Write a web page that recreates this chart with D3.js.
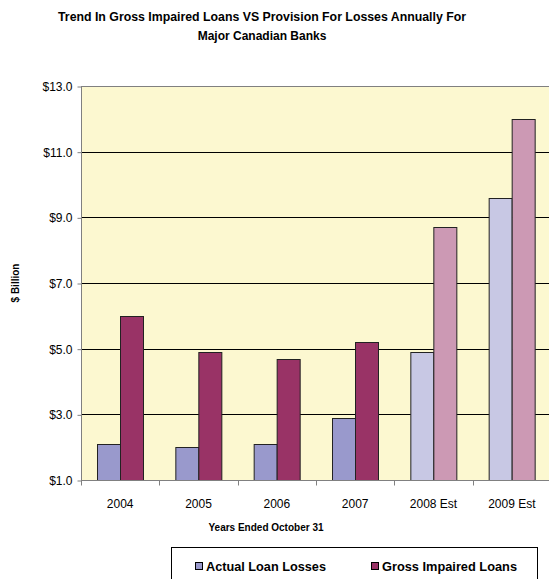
<!DOCTYPE html>
<html>
<head>
<meta charset="utf-8">
<script src="https://cdn.jsdelivr.net/npm/d3@7"></script>
<style>
  body { margin: 0; background: #fff; }
  text { font-family: "Liberation Sans", Arial, sans-serif; }
</style>
</head>
<body>
<div id="chart"></div>
<script>
// data ($ billion)
const years = ["2004", "2005", "2006", "2007", "2008 Est", "2009 Est"];
const actualLosses = [2.1, 2.0, 2.1, 2.9, 4.9, 9.6];
const grossImpaired = [6.0, 4.9, 4.7, 5.2, 8.7, 12.0];
const isEstimate = [false, false, false, false, true, true];
const seriesNames = ["Actual Loan Losses", "Gross Impaired Loans"];
const yTicks = [1, 3, 5, 7, 9, 11, 13];

const W = 549, H = 579;
const plot = { left: 81, top: 86, right: 551, bottom: 480 };

const colors = {
  "Actual Loan Losses": { normal: "#9999cc", est: "#c8c8e4" },
  "Gross Impaired Loans": { normal: "#993366", est: "#cc99b4" }
};

let svg = d3.select("#chart").append("svg")
  .attr("width", W)
  .attr("height", H);

// title
svg.append("text")
  .attr("x", 262).attr("y", 21)
  .attr("text-anchor", "middle")
  .style("font-size", "12px").style("font-weight", "bold")
  .attr("textLength", 408).attr("lengthAdjust", "spacingAndGlyphs")
  .text("Trend In Gross Impaired Loans VS Provision For Losses Annually For");
svg.append("text")
  .attr("x", 262).attr("y", 40)
  .attr("text-anchor", "middle")
  .style("font-size", "12px").style("font-weight", "bold")
  .text("Major Canadian Banks");

let x = d3.scaleBand()
  .domain(years)
  .range([plot.left, plot.right])
  .paddingInner(0).paddingOuter(0);

let xInner = d3.scaleBand()
  .domain(seriesNames)
  .range([0, x.bandwidth()])
  .paddingOuter(0.705).paddingInner(0);

let y = d3.scaleLinear()
  .domain([1, 13])
  .range([plot.bottom, plot.top]);

// plot background
svg.append("rect")
  .attr("x", plot.left).attr("y", plot.top)
  .attr("width", plot.right - plot.left).attr("height", plot.bottom - plot.top)
  .attr("fill", "#fcf8d0");

// gridlines
svg.append("g")
  .selectAll("line")
  .data(yTicks.slice(1, -1))
  .enter().append("line")
  .attr("x1", plot.left).attr("x2", plot.right)
  .attr("y1", d => Math.round(y(d)) + 0.5).attr("y2", d => Math.round(y(d)) + 0.5)
  .attr("stroke", "#000").attr("stroke-width", 1);

// top border
svg.append("line")
  .attr("x1", plot.left).attr("x2", plot.right)
  .attr("y1", plot.top + 0.5).attr("y2", plot.top + 0.5)
  .attr("stroke", "#808080");

// bars
const rows = years.map((yr, i) => ({
  year: yr,
  est: isEstimate[i],
  values: [
    { name: seriesNames[0], value: actualLosses[i] },
    { name: seriesNames[1], value: grossImpaired[i] }
  ]
}));

svg.append("g")
  .selectAll("g")
  .data(rows)
  .enter().append("g")
  .attr("transform", d => "translate(" + x(d.year) + ",0)")
  .selectAll("rect")
  .data(d => d.values.map(v => ({ ...v, est: d.est })))
  .enter().append("rect")
  .attr("x", d => Math.round(xInner(d.name)) + 0.5)
  .attr("y", d => Math.round(y(d.value)) + 0.5)
  .attr("width", Math.round(xInner.bandwidth()))
  .attr("height", d => y(1) - Math.round(y(d.value)))
  .attr("fill", d => d.est ? colors[d.name].est : colors[d.name].normal)
  .attr("stroke", "#222").attr("stroke-width", 1);

// y axis
let yAxis = svg.append("g")
  .attr("transform", "translate(" + (plot.left + 0.5) + ",0.5)")
  .call(d3.axisLeft(y).tickValues(yTicks).tickSize(4).tickPadding(5)
    .tickFormat(d => "$" + d3.format(".1f")(d)));
yAxis.select(".domain").attr("stroke", "#808080").attr("d", "M0," + plot.bottom + "V" + plot.top);
yAxis.selectAll(".tick line").attr("stroke", "#808080");
yAxis.selectAll("text").style("font-size", "12px").attr("fill", "#000");

// x axis
let xAxis = svg.append("g")
  .attr("transform", "translate(0," + (plot.bottom + 0.5) + ")");
xAxis.append("line")
  .attr("x1", plot.left).attr("x2", plot.right)
  .attr("stroke", "#808080");
xAxis.selectAll(".xt")
  .data(years)
  .enter().append("line")
  .attr("class", "xt")
  .attr("x1", d => Math.round(x(d)) + 0.5).attr("x2", d => Math.round(x(d)) + 0.5)
  .attr("y1", 0).attr("y2", 5)
  .attr("stroke", "#808080");
xAxis.selectAll("text")
  .data(years)
  .enter().append("text")
  .attr("x", d => x(d) + x.bandwidth() / 2)
  .attr("y", 27)
  .attr("text-anchor", "middle")
  .style("font-size", "12px")
  .text(d => d);

// axis titles
svg.append("text")
  .attr("x", 266).attr("y", 531)
  .attr("text-anchor", "middle")
  .style("font-size", "10px").style("font-weight", "bold")
  .text("Years Ended October 31");
svg.append("text")
  .attr("transform", "translate(19,283) rotate(-90)")
  .attr("text-anchor", "middle")
  .style("font-size", "10px").style("font-weight", "bold")
  .text("$ Billion");

// legend
let legend = svg.append("g");
legend.append("rect")
  .attr("x", 171.5).attr("y", 547.5)
  .attr("width", 366).attr("height", 40)
  .attr("fill", "#fff").attr("stroke", "#000");
const legendX = [195, 371];
seriesNames.forEach((name, i) => {
  legend.append("rect")
    .attr("x", legendX[i] + 0.5).attr("y", 562.5)
    .attr("width", 7).attr("height", 7)
    .attr("fill", colors[name].normal).attr("stroke", "#000");
  legend.append("text")
    .attr("x", legendX[i] + 11).attr("y", 571)
    .style("font-size", "13px").style("font-weight", "bold")
    .attr("textLength", i === 0 ? 120 : 135).attr("lengthAdjust", "spacingAndGlyphs")
    .text(name);
});
</script>
</body>
</html>
